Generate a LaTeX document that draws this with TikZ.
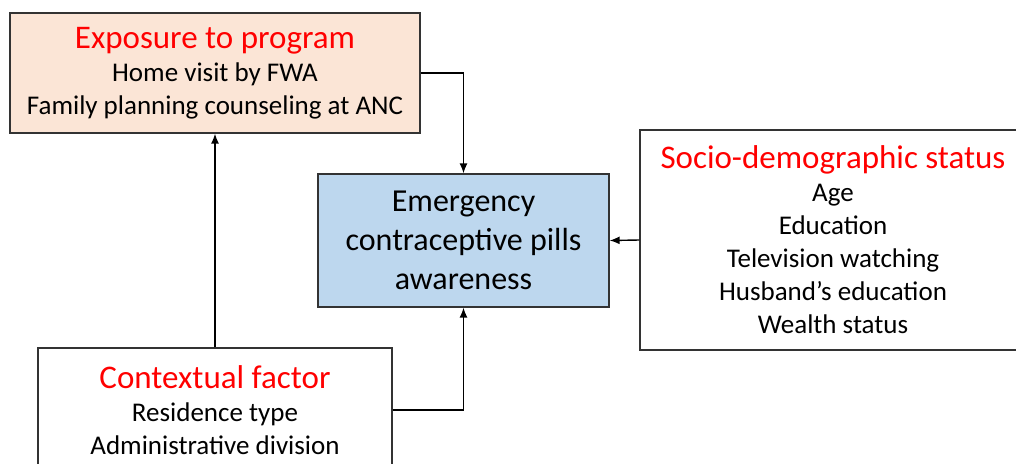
\documentclass[tikz,border=0pt]{standalone}
\usepackage{fontspec}
\setmainfont{Carlito}
\usetikzlibrary{arrows.meta}
\definecolor{peach}{HTML}{FBE5D6}
\definecolor{paleblue}{HTML}{BDD7EE}
\newcommand{\hdr}[1]{{\color{red}\fontsize{33}{36}\selectfont #1}}

\begin{document}
\begin{tikzpicture}[x=1pt,y=-1pt]
\tikzset{box/.style = {shape=rectangle, draw=black!80, line width=1.3pt,
	align=center, inner sep=0pt,
	font=\fontsize{27}{33}\selectfont}}
\tikzset{edge/.style = {->, > = {Latex[length=10pt,width=8pt]}, line width=1.4pt}}
\path[use as bounding box, clip] (0,0) rectangle (1016,463);
% boxes
\node[box, fill=peach, minimum width=410pt, minimum height=120pt] (expo) at (215,73)
	{\hdr{Exposure to program}\\Home visit by FWA\\Family planning counseling at ANC};
\node[box, fill=paleblue, minimum width=291pt, minimum height=133pt,
	font=\fontsize{32}{39}\selectfont] (ecp) at (463.5,240.5)
	{Emergency\\contraceptive pills\\awareness};
\node[box, fill=white, minimum width=386pt, minimum height=220pt] (socio) at (833,240)
	{\hdr{Socio-demographic status}\\Age\\Education\\Television watching\\Husband’s education\\Wealth status};
\node[box, fill=white, minimum width=354pt, minimum height=124pt] (context) at (215,410)
	{\hdr{Contextual factor}\\Residence type\\Administrative division};

% edges
\draw[edge] (expo.east) -| (ecp.north);
\draw[edge] (context.north) -- (expo.south);
\draw[edge] (context.east) -| (ecp.south);
\draw[edge] (socio.west) -- (ecp.east);
\end{tikzpicture}
\end{document}
